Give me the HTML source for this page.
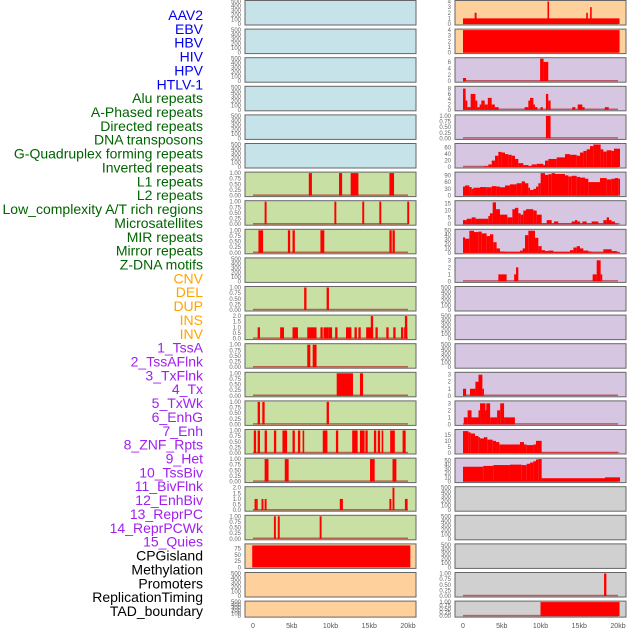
<!DOCTYPE html>
<html><head><meta charset="utf-8"><style>
html,body{margin:0;padding:0;background:#fff;}
svg{display:block;font-family:"Liberation Sans",sans-serif;}
</style></head><body>
<svg id="chart" width="630" height="630" viewBox="0 0 630 630" xmlns="http://www.w3.org/2000/svg"></svg>
<script>
// ---- labels ----
const trackLabels = ["AAV2","EBV","HBV","HIV","HPV","HTLV-1","Alu repeats","A-Phased repeats","Directed repeats","DNA transposons","G-Quadruplex forming repeats","Inverted repeats","L1 repeats","L2 repeats","Low_complexity A/T rich regions","Microsatellites","MIR repeats","Mirror repeats","Z-DNA motifs","CNV","DEL","DUP","INS","INV","1_TssA","2_TssAFlnk","3_TxFlnk","4_Tx","5_TxWk","6_EnhG","7_Enh","8_ZNF_Rpts","9_Het","10_TssBiv","11_BivFlnk","12_EnhBiv","13_ReprPC","14_ReprPCWk","15_Quies","CPGisland","Methylation","Promoters","ReplicationTiming","TAD_boundary"];
const labelColors = ["#0000ee","#0000ee","#0000ee","#0000ee","#0000ee","#0000ee"].concat(Array(13).fill("#006400"),Array(5).fill("#ffa500"),Array(15).fill("#a020f0"),Array(5).fill("#000"));
const xTickVals = [0,5,10,15,20];
const xTickLabels = ["0","5kb","10kb","15kb","20kb"];
// ---- tick sets ----
const T500 = [0,100,200,300,400,500];
const T1 = [0,0.25,0.5,0.75,1];
const T2 = [0,0.5,1,1.5,2];
// ---- left column data (segments: start kb, end kb, value) ----
const L6_s=[7.2,11.1,12.6,17.6], L6_e=[7.6,11.5,13.6,18.2], L6_v=[1,1,1,1];
const L7_s=[1.5,10.5,14.1,16.3,19.9], L7_e=[1.75,10.75,14.35,16.55,20.15], L7_v=[1,1,1,1,1];
const L8_s=[0.7,4.5,5.1,8.7,17.6,18.0], L8_e=[1.3,4.8,5.4,9.2,17.9,18.3], L8_v=[1,1,1,1,1,1];
const L10_s=[6.6,9.5], L10_e=[6.9,9.8], L10_v=[1,1];
const L11_s=[0.6,3.5,5.1,7.0,8.7,9.1,9.7,10.6,12.0,13.1,13.6,14.6,15.2,15.8,17.2,18.1,19.1,19.5,19.6];
const L11_e=[0.9,4.0,5.8,8.2,9.0,9.7,10.2,10.9,12.7,13.4,13.9,15.5,15.5,16.1,17.5,18.4,19.4,19.9,19.9];
const L11_v=[1,1,1,1,1,1,1,1,1,1,1,1,2,1,1,1,1,1,2];
const L12_s=[7.0,7.7], L12_e=[7.4,8.2], L12_v=[1,1];
const L13_s=[10.8,13.8], L13_e=[12.9,14.2], L13_v=[1,1];
const L14_s=[0.6,1.2,9.5], L14_e=[0.9,1.5,9.8], L14_v=[1,1,1];
const L15_s=[0.1,0.6,1.5,2.7,3.8,5.1,5.8,6.4,9.0,10.7,12.8,13.8,14.5,15.6,16.1,16.6,17.7,18.0,19.3];
const L15_e=[0.4,0.9,1.8,3.0,4.4,5.4,6.1,6.6,9.6,11.0,13.5,14.4,14.8,15.9,16.4,16.8,18.0,18.3,19.7];
const L15_v=Array(19).fill(1);
const L16_s=[1.5,4.1,15.1,18.0], L16_e=[2.0,4.6,15.7,18.5], L16_v=[1,1,1,1];
const L17_s=[0.2,0.4,1.1,1.5,11.2,17.6,18.0,19.6], L17_e=[0.35,0.55,1.35,1.75,11.6,17.85,18.25,19.95], L17_v=[1,1,1,1,1,1,2,1];
const L18_s=[2.7,3.2,8.6], L18_e=[2.95,3.45,8.85], L18_v=[1,1,1];
const L19_s=[-0.1], L19_e=[20.3], L19_v=[88];
// ---- right column data ----
const R0_s=[0,1.5,10.9,15.9,16.4], R0_e=[20.2,1.75,11.1,16.1,16.6], R0_v=[1,2,4,2,3];
const R1_s=[0], R1_e=[20.2], R1_v=[4];
const R2_s=[0,9.95,10.4], R2_e=[0.4,10.4,11.0], R2_v=[1,7,6];
const R3_s=[0,0.34,0.56,0.99,1.6,1.85,2.15,2.37,2.8,3.2,3.7,4.1,7.95,8.43,8.65,9.08,9.29,10.0,10.7,11.0,14.1,14.8,15.4,18.3];
const R3_e=[0.34,0.56,0.99,1.6,1.85,2.15,2.37,2.8,3.2,3.7,4.1,4.6,8.43,8.65,9.08,9.29,9.6,10.3,11.0,11.3,14.5,15.4,15.7,18.8];
const R3_v=[8,3.5,1,6,3.5,1,2,3.5,2,4.5,2,1,1,3.5,4.5,2,1,1,6,3.5,1,2,1,1];
const R4_s=[10.7], R4_e=[11.3], R4_v=[1];
const R5_x=[2.71,3.27,3.7,4.13,4.56,4.99,5.42,5.85,6.28,6.71,7.14,7.78,8.43,8.86,9.51,10.37,10.58,11.01,12.09,13.16,13.81,14.67,15.1,15.53,15.96,16.39,16.82,17.76,18.11,18.54,19.18,19.48,20.26];
const R5_v=[2,8,20,35,47,45,40,38,35,25,12,6,3,8,10,6,20,25,30,40,38,35,45,50,55,65,70,55,48,52,50,57];
const R6_x=[0,0.26,0.82,1.12,1.33,2.19,3.05,3.7,4.34,4.77,5.42,6.06,6.92,7.57,8.0,8.43,8.65,9.08,9.42,9.72,10.02,10.58,11.01,11.44,11.87,13.16,13.59,14.02,14.67,15.1,15.74,16.17,17.68,18.54,19.18,19.61,20.04,20.26];
const R6_v=[40,45,38,30,35,38,37,42,40,37,45,50,55,63,55,35,25,30,40,55,100,92,95,100,96,90,85,88,83,80,75,60,78,72,75,78,75];
const R7_x=[0,0.47,1.12,1.63,3.27,3.48,3.83,4.26,4.77,5.72,6.37,6.71,7.14,7.44,7.78,8.13,9.08,9.51,10.15,10.8,11.44,11.74,12.3,14.02,14.45,14.75,15.1,15.4,15.96,16.6,17.46,18.11,18.54,18.84,19.18,19.61,20.26];
const R7_v=[3,4,5,4,6,8,16,11,7,5,11,12,8,7,10,11,10,7,0.5,3,0.5,2,0.5,2,3,2,0.5,2,0.5,2,0.5,3,5,3,2,0.5];
const R8_x=[0,0.26,0.82,1.42,1.98,2.41,3.05,3.48,3.91,4.34,4.77,5.42,7.35,7.7,8.0,8.43,9.29,9.72,10.15,10.58,11.01,11.66,13.81,14.24,14.67,15.1,15.53,16.17,16.6,18.11,19.18,19.83,20.26];
const R8_v=[35,32,50,47,48,44,38,42,24,10,3,2,5,10,40,50,34,15,6,4,5,2,6,12,15,10,5,3,1,8,4,2];
const R9_s=[4.56,6.6,6.84,16.73,17.25,17.76], R9_e=[5.63,6.84,7.14,17.25,17.76,17.89], R9_v=[1,1,2,1,3,1];
const R13_s=[0,0.9,1.6,2.0,2.5], R13_e=[0.4,1.6,2.0,2.5,2.6], R13_v=[1,1,2,3,1];
const R14_s=[0.1,0.6,1.1,2.0,2.2,2.9,3.0,3.5,4.4,4.8,5.3], R14_e=[0.6,1.1,2.0,2.2,2.9,3.0,3.5,4.4,4.8,5.3,6.7], R14_v=[1,2,1,2,3,2,3,1,2,3,1];
const R15_x=[0,0.69,0.99,1.55,1.98,2.19,2.71,3.14,3.83,4.26,4.69,7.35,7.87,8.22,9.08,9.42,10.15,20.26];
const R15_v=[18,17,16,14,13,12,13,11,10,9,7,9,7,6.5,7,10,0.3];
const R16_x=[0,2.62,3.91,6.06,7.57,8.22,8.65,9.08,9.42,9.72,10.15,18.32,20.26];
const R16_v=[35,37,39,40,39,42,45,48,52,53,8,10];
const R20_s=[18.2], R20_e=[18.5], R20_v=[1];
const R21_s=[10.0], R21_e=[20.2], R21_v=[1];

const BLUE="#c6e3ea", GREEN="#c8e0a4", ORANGE="#fdd09c", PURPLE="#d6c6e2", GREY="#d0d0d0";
function seg(s,e,v){return {s:s,e:e,v:v};}
function steps(x,v){return {s:x.slice(0,-1),e:x.slice(1),v:v};}
const leftPanels=[];
for(let i=0;i<6;i++) leftPanels.push({bg:BLUE,t:T500,ymax:500,d:null});
leftPanels.push({bg:GREEN,t:T1,ymax:1,d:seg(L6_s,L6_e,L6_v)});
leftPanels.push({bg:GREEN,t:T1,ymax:1,d:seg(L7_s,L7_e,L7_v)});
leftPanels.push({bg:GREEN,t:T1,ymax:1,d:seg(L8_s,L8_e,L8_v)});
leftPanels.push({bg:GREEN,t:T500,ymax:500,d:null});
leftPanels.push({bg:GREEN,t:T1,ymax:1,d:seg(L10_s,L10_e,L10_v)});
leftPanels.push({bg:GREEN,t:T2,ymax:2,d:seg(L11_s,L11_e,L11_v),f:1});
leftPanels.push({bg:GREEN,t:T1,ymax:1,d:seg(L12_s,L12_e,L12_v)});
leftPanels.push({bg:GREEN,t:T1,ymax:1,d:seg(L13_s,L13_e,L13_v)});
leftPanels.push({bg:GREEN,t:T1,ymax:1,d:seg(L14_s,L14_e,L14_v)});
leftPanels.push({bg:GREEN,t:T1,ymax:1,d:seg(L15_s,L15_e,L15_v)});
leftPanels.push({bg:GREEN,t:T1,ymax:1,d:seg(L16_s,L16_e,L16_v)});
leftPanels.push({bg:GREEN,t:T2,ymax:2,d:seg(L17_s,L17_e,L17_v),f:1});
leftPanels.push({bg:GREEN,t:T1,ymax:1,d:seg(L18_s,L18_e,L18_v)});
leftPanels.push({bg:ORANGE,t:[0,25,50,75],ymax:90,d:seg(L19_s,L19_e,L19_v),nobase:1});
leftPanels.push({bg:ORANGE,t:T500,ymax:500,d:null});
leftPanels.push({bg:ORANGE,t:T500,ymax:500,d:null});
const rightPanels=[
 {bg:ORANGE,t:[0,1,2,3,4],ymax:4,d:seg(R0_s,R0_e,R0_v)},
 {bg:ORANGE,t:[0,1,2,3,4],ymax:4,d:seg(R1_s,R1_e,R1_v)},
 {bg:PURPLE,t:[0,2,4,6],ymax:7,d:seg(R2_s,R2_e,R2_v)},
 {bg:PURPLE,t:[0,2,4,6,8],ymax:8.5,d:seg(R3_s,R3_e,R3_v)},
 {bg:PURPLE,t:T1,ymax:1,d:seg(R4_s,R4_e,R4_v)},
 {bg:PURPLE,t:[0,20,40,60],ymax:70,d:steps(R5_x,R5_v)},
 {bg:PURPLE,t:[0,30,60,90],ymax:100,d:steps(R6_x,R6_v)},
 {bg:PURPLE,t:[0,5,10,15],ymax:16.5,d:steps(R7_x,R7_v)},
 {bg:PURPLE,t:[0,10,20,30,40,50],ymax:51,d:steps(R8_x,R8_v)},
 {bg:PURPLE,t:[0,1,2,3],ymax:3.2,d:seg(R9_s,R9_e,R9_v)},
 {bg:PURPLE,t:T500,ymax:500,d:null},
 {bg:PURPLE,t:T500,ymax:500,d:null},
 {bg:PURPLE,t:T500,ymax:500,d:null},
 {bg:PURPLE,t:[0,1,2,3],ymax:3.2,d:seg(R13_s,R13_e,R13_v)},
 {bg:PURPLE,t:[0,1,2,3],ymax:3.2,d:seg(R14_s,R14_e,R14_v)},
 {bg:PURPLE,t:[0,5,10,15],ymax:18.5,d:steps(R15_x,R15_v)},
 {bg:PURPLE,t:[0,10,20,30,40,50],ymax:53,d:steps(R16_x,R16_v)},
 {bg:GREY,t:T500,ymax:500,d:null},
 {bg:GREY,t:T500,ymax:500,d:null},
 {bg:GREY,t:T500,ymax:500,d:null},
 {bg:GREY,t:T1,ymax:1,d:seg(R20_s,R20_e,R20_v)},
 {bg:GREY,t:T1,ymax:1,d:seg(R21_s,R21_e,R21_v)}
];
const svg=document.getElementById('chart');
const NS="http://www.w3.org/2000/svg";
function mk(tag,attrs,parent){const el=document.createElementNS(NS,tag);for(const k in attrs)el.setAttribute(k,attrs[k]);(parent||svg).appendChild(el);return el;}
// labels
trackLabels.forEach((t,j)=>{
  const el=mk('text',{x:203,y:(15+13.86*j+5).toFixed(1),'text-anchor':'end','font-size':'14',fill:labelColors[j]});
  el.textContent=t;
  
  
});
function fmt(v,t){const mx=t[t.length-1];if(mx===1)return v.toFixed(2);if(mx===2)return v.toFixed(1);return String(v);}
function drawPanel(p,i,col){
  const bx=col?455:245, x0=col?463:253, bw=171;
  const top=0.5+28.6*i, h=(i===21)?16:24.5, bot=top+h;
  const xs=kb=>x0+kb*7.75;
  const ys=v=>bot-1-(Math.min(v,p.ymax)/p.ymax)*(h-2);
  const g=mk('g',{});
  
  
  mk('rect',{x:bx,y:top,width:bw,height:h,fill:p.bg},g);
  if(p.d){
    if(!p.nobase) mk('line',{x1:xs(0),x2:xs(20),y1:bot-1.5,y2:bot-1.5,stroke:'rgba(170,0,0,0.55)','stroke-width':1.5},g);
    for(let k=0;k<p.d.s.length;k++){
      const v=p.d.v[k]; const x1=xs(p.d.s[k]), x2=xs(p.d.e[k]);
      const r=mk('rect',{x:x1.toFixed(2),y:ys(v).toFixed(2),width:Math.max(1.6,x2-x1).toFixed(2),height:(bot-1-ys(v)).toFixed(2),fill:'#ff0000'},g);
      
      
    }
  }
  mk('rect',{x:bx,y:top,width:bw,height:h,fill:'none',stroke:'#666','stroke-width':1},g);
  p.t.forEach(tv=>{
    const tl=mk('text',{x:bx-4,y:(ys(tv)+2).toFixed(1),'text-anchor':'end','font-size':'6',fill:'#666'},g);
    tl.textContent=fmt(tv,p.t);
    
    
  });
}
leftPanels.forEach((p,i)=>drawPanel(p,i,0));
rightPanels.forEach((p,i)=>drawPanel(p,i,1));
[253,463].forEach((x0,c)=>{
  xTickVals.forEach((v,k)=>{
    const t=mk('text',{x:x0+v*7.75,y:628,'text-anchor':'middle','font-size':'7',fill:'#555'});
    t.textContent=xTickLabels[k];
    
    
  });
});
</script>
</body></html>
